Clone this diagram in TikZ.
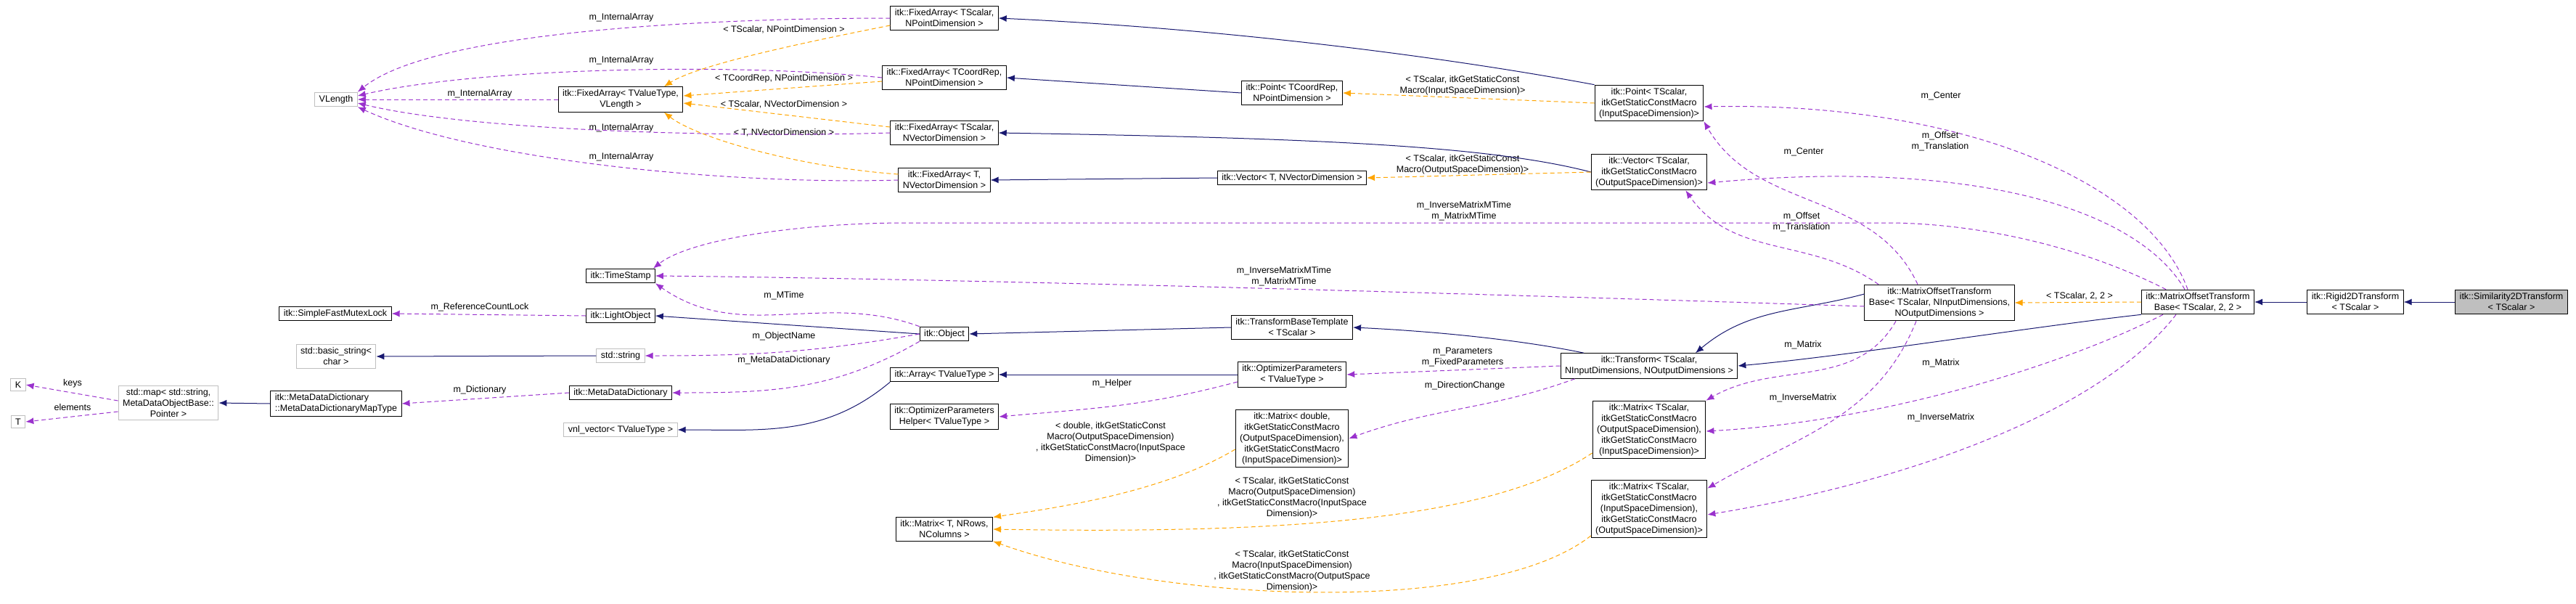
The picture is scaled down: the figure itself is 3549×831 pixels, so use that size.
\documentclass[tikz,border=0pt]{standalone}
\usepackage{fontspec}
\setmainfont{Liberation Sans}
\usetikzlibrary{positioning,calc,arrows.meta}
\definecolor{inhblue}{HTML}{191970}
\definecolor{usepurple}{HTML}{9A32CD}
\definecolor{tmplorange}{HTML}{FFA500}
\tikzset{
  cls/.style={draw=black,line width=1pt,fill=white,align=center,inner xsep=6pt,inner ysep=4pt,font=\fontsize{12.5}{15}\selectfont},
  ucls/.style={cls,draw=black!25},
  lbl/.style={align=center,inner sep=0pt,font=\fontsize{12.5}{15}\selectfont},
  inh/.style={draw=inhblue,line width=1pt,-{Latex[length=11pt,width=9pt]}},
  use/.style={draw=usepurple,line width=1pt,dash pattern=on 6pt off 4pt,-{Latex[length=11pt,width=9pt]}},
  tmpl/.style={draw=tmplorange,line width=1pt,dash pattern=on 6pt off 4pt,-{Latex[length=11pt,width=9pt]}},
}
\begin{document}
\begin{tikzpicture}[x=1pt,y=-1pt]
\useasboundingbox (0,0) rectangle (3549,831);
% classes, left to right
\node[ucls](K) at (25,530){K};
\node[ucls](T) at (25,581){T};
\node[ucls](StdMap) at (232,555){std::map< std::string,\\MetaDataObjectBase::\\Pointer >};
\node[ucls](VLength) at (463,137){VLength};
\node[cls](Mutex) at (462,432){itk::SimpleFastMutexLock};
\node[ucls](BasicString) at (463,491){std::basic\_string<\\char >};
\node[cls,align=left](MapType) at (463,556){itk::MetaDataDictionary\\::MetaDataDictionaryMapType};
\node[cls](FAvl) at (855,137){itk::FixedArray< TValueType,\\VLength >};
\node[cls](TimeStamp) at (855,380){itk::TimeStamp};
\node[cls](LightObject) at (855,435){itk::LightObject};
\node[ucls](StdString) at (855,490){std::string};
\node[cls](MetaDict) at (855,541){itk::MetaDataDictionary};
\node[ucls](VnlVector) at (855,592){vnl\_vector< TValueType >};
\node[cls](FApt) at (1301,25){itk::FixedArray< TScalar,\\NPointDimension >};
\node[cls](FAcr) at (1301,107){itk::FixedArray< TCoordRep,\\NPointDimension >};
\node[cls](FAsv) at (1301,183){itk::FixedArray< TScalar,\\NVectorDimension >};
\node[cls](FAtv) at (1301,248){itk::FixedArray< T,\\NVectorDimension >};
\node[cls](Object) at (1301,460){itk::Object};
\node[cls](Array) at (1301,516){itk::Array< TValueType >};
\node[cls](OptHelper) at (1301,574){itk::OptimizerParameters\\Helper< TValueType >};
\node[cls](MatrixT) at (1301,729){itk::Matrix< T, NRows,\\NColumns >};
\node[cls](PointCR) at (1780,128){itk::Point< TCoordRep,\\NPointDimension >};
\node[cls](VectorT) at (1780,245){itk::Vector< T, NVectorDimension >};
\node[cls](TBT) at (1780,451){itk::TransformBaseTemplate\\< TScalar >};
\node[cls](OptParams) at (1780,516){itk::OptimizerParameters\\< TValueType >};
\node[cls](MatrixD) at (1780,604){itk::Matrix< double,\\itkGetStaticConstMacro\\(OutputSpaceDimension),\\itkGetStaticConstMacro\\(InputSpaceDimension)>};
\node[cls](PointS) at (2272,142){itk::Point< TScalar,\\itkGetStaticConstMacro\\(InputSpaceDimension)>};
\node[cls](VectorS) at (2272,237){itk::Vector< TScalar,\\itkGetStaticConstMacro\\(OutputSpaceDimension)>};
\node[cls](Transform) at (2272,504){itk::Transform< TScalar,\\NInputDimensions, NOutputDimensions >};
\node[cls](MatrixOI) at (2272,592){itk::Matrix< TScalar,\\itkGetStaticConstMacro\\(OutputSpaceDimension),\\itkGetStaticConstMacro\\(InputSpaceDimension)>};
\node[cls](MatrixIO) at (2272,701){itk::Matrix< TScalar,\\itkGetStaticConstMacro\\(InputSpaceDimension),\\itkGetStaticConstMacro\\(OutputSpaceDimension)>};
\node[cls](MOTBN) at (2672,417){itk::MatrixOffsetTransform\\Base< TScalar, NInputDimensions,\\NOutputDimensions >};
\node[cls](MOTB2) at (3028,416){itk::MatrixOffsetTransform\\Base< TScalar, 2, 2 >};
\node[cls](Rigid) at (3245,416){itk::Rigid2DTransform\\< TScalar >};
\node[cls,fill=black!25](Sim) at (3460,416){itk::Similarity2DTransform\\< TScalar >};

% edge labels
\node[lbl](lKeys) at (100,528){keys};
\node[lbl](lElems) at (100,561){elements};
\node[lbl](lIA1) at (856,24){m\_InternalArray};
\node[lbl](lIA2) at (856,83){m\_InternalArray};
\node[lbl](lIA3) at (661,129){m\_InternalArray};
\node[lbl](lIA4) at (856,176){m\_InternalArray};
\node[lbl](lIA5) at (856,216){m\_InternalArray};
\node[lbl](lFApt) at (1080,41){< TScalar, NPointDimension >};
\node[lbl](lFAcr) at (1080,108){< TCoordRep, NPointDimension >};
\node[lbl](lFAsv) at (1080,144){< TScalar, NVectorDimension >};
\node[lbl](lFAtv) at (1080,183){< T, NVectorDimension >};
\node[lbl](lLock) at (661,423){m\_ReferenceCountLock};
\node[lbl](lDict) at (661,537){m\_Dictionary};
\node[lbl](lMTime) at (1080,407){m\_MTime};
\node[lbl](lName) at (1080,463){m\_ObjectName};
\node[lbl](lMDD) at (1080,496){m\_MetaDataDictionary};
\node[lbl](lHelper) at (1532,528){m\_Helper};
\node[lbl](lMatD) at (1530,610){< double, itkGetStaticConst\\Macro(OutputSpaceDimension)\\, itkGetStaticConstMacro(InputSpace\\Dimension)>};
\node[lbl](lMatOI) at (1780,686){< TScalar, itkGetStaticConst\\Macro(OutputSpaceDimension)\\, itkGetStaticConstMacro(InputSpace\\Dimension)>};
\node[lbl](lMatIO) at (1780,787){< TScalar, itkGetStaticConst\\Macro(InputSpaceDimension)\\, itkGetStaticConstMacro(OutputSpace\\Dimension)>};
\node[lbl](lPointS) at (2015,118){< TScalar, itkGetStaticConst\\Macro(InputSpaceDimension)>};
\node[lbl](lVectorS) at (2015,227){< TScalar, itkGetStaticConst\\Macro(OutputSpaceDimension)>};
\node[lbl](lMTimeN) at (1769,381){m\_InverseMatrixMTime\\m\_MatrixMTime};
\node[lbl](lMTime2) at (2017,291){m\_InverseMatrixMTime\\m\_MatrixMTime};
\node[lbl](lParams) at (2015,492){m\_Parameters\\m\_FixedParameters};
\node[lbl](lDir) at (2018,531){m\_DirectionChange};
\node[lbl](lCenterN) at (2485,209){m\_Center};
\node[lbl](lOffsetN) at (2482,306){m\_Offset\\m\_Translation};
\node[lbl](lMatrixN) at (2484,475){m\_Matrix};
\node[lbl](lInvN) at (2484,548){m\_InverseMatrix};
\node[lbl](lTmpl22) at (2865,408){< TScalar, 2, 2 >};
\node[lbl](lCenter2) at (2674,132){m\_Center};
\node[lbl](lOffset2) at (2673,195){m\_Offset\\m\_Translation};
\node[lbl](lMatrix2) at (2674,500){m\_Matrix};
\node[lbl](lInv2) at (2674,575){m\_InverseMatrix};

% fixed arrays and their storage
\draw[use] (FApt.west) .. controls (1000,25) and (600,40) .. (VLength.north east);
\draw[use] (FAcr.west) .. controls (1000,85) and (650,95) .. ([yshift=5pt]VLength.east);
\draw[use] (FAvl.west) -- (VLength.east);
\draw[use] (FAsv.west) .. controls (1000,190) and (650,180) .. ([yshift=-5pt]VLength.east);
\draw[use] (FAtv.west) .. controls (1000,255) and (650,220) .. (VLength.south east);
\draw[tmpl] ([yshift=-10pt]FApt.west) .. controls (1100,60) and (960,90) .. ([xshift=60pt]FAvl.north);
\draw[tmpl] ([yshift=-5pt]FAcr.west) -- ([yshift=5pt]FAvl.east);
\draw[tmpl] ([yshift=8pt]FAsv.west) -- ([yshift=-5pt]FAvl.east);
\draw[tmpl] ([yshift=8pt]FAtv.west) .. controls (1100,230) and (960,190) .. ([xshift=60pt]FAvl.south);
\draw[inh] (PointS.north west) .. controls (2000,80) and (1700,40) .. (FApt.east);
\draw[inh] (PointCR.west) -- (FAcr.east);
\draw[inh] (VectorS.west) .. controls (2050,200) and (1800,190) .. (FAsv.east);
\draw[inh] (VectorT.west) -- (FAtv.east);
\draw[tmpl] (PointS.west) -- (PointCR.east);
\draw[tmpl] (VectorS.west) -- (VectorT.east);

% object hierarchy
\draw[inh] (Object.west) -- (LightObject.east);
\draw[use] (Object.north west) to[out=160,in=-35] (TimeStamp.south east);
\draw[use] (Object.west) to[out=190,in=0] (StdString.east);
\draw[use] (Object.south west) to[out=210,in=0] (MetaDict.east);
\draw[use] (LightObject.west) -- (Mutex.east);
\draw[inh] (StdString.west) -- (BasicString.east);
\draw[use] (MetaDict.west) -- (MapType.east);
\draw[inh] (MapType.west) -- (StdMap.east);
\draw[use] ([yshift=3pt]StdMap.west) -- (K.east);
\draw[use] ([yshift=-12pt]StdMap.west) -- (T.east);
\draw[inh] (TBT.west) -- (Object.east);
\draw[inh] (OptParams.west) -- (Array.east);
\draw[use] ([yshift=-10pt]OptParams.west) to[out=195,in=5] (OptHelper.east);
\draw[inh] (Array.south west) to[out=220,in=0] (VnlVector.east);

% transforms
\draw[inh] ([xshift=-90pt]Transform.north) .. controls (2080,465) and (1950,455) .. (TBT.east);
\draw[use] (Transform.west) -- (OptParams.east);
\draw[use] ([xshift=20pt]Transform.south west) to[out=200,in=20] (MatrixD.east);
\draw[tmpl] ([yshift=-15pt]MatrixD.west) .. controls (1600,680) and (1450,700) .. (MatrixT.north east);
\draw[tmpl] ([yshift=-32pt]MatrixOI.west) .. controls (2050,720) and (1750,735) .. (MatrixT.east);
\draw[tmpl] ([yshift=-37pt]MatrixIO.west) .. controls (2050,850) and (1600,830) .. (MatrixT.south east);
\draw[inh] ([yshift=12pt]MOTBN.west) to[out=195,in=40] ([xshift=64pt]Transform.north);
\draw[use] ([xshift=-30pt]MOTBN.north) to[out=115,in=-60] (PointS.south east);
\draw[use] ([xshift=-84pt]MOTBN.north) to[out=145,in=-55] ([xshift=-30pt]VectorS.south east);
\draw[use] ([yshift=-5pt]MOTBN.west) .. controls (2200,410) and (1400,385) .. (TimeStamp.east);
\draw[use] ([xshift=-60pt]MOTBN.south) to[out=-120,in=30] (MatrixOI.north east);
\draw[use] ([xshift=-32pt]MOTBN.south) to[out=-112,in=30] ([yshift=-12pt]MatrixIO.north east);
\draw[tmpl] (MOTB2.west) -- (MOTBN.east);
\draw[inh] (MOTB2.south west) .. controls (2800,450) and (2550,490) .. (Transform.east);
\draw[use] ([xshift=-14pt]MOTB2.north) .. controls (2960,250) and (2700,140) .. ([yshift=-5pt]PointS.east);
\draw[use] ([xshift=-18pt]MOTB2.north) .. controls (2940,280) and (2700,220) .. ([yshift=-15pt]VectorS.east);
\draw[use] ([xshift=-44pt]MOTB2.north) .. controls (2850,330) and (2700,307) .. (2600,307) -- (1250,307) .. controls (1100,307) and (950,330) .. ([xshift=-3pt]TimeStamp.north east);
\draw[use] ([xshift=-48pt]MOTB2.south) .. controls (2850,500) and (2600,580) .. ([yshift=-2pt]MatrixOI.east);
\draw[use] ([xshift=-30pt]MOTB2.south) .. controls (2900,560) and (2650,660) .. ([yshift=-8pt]MatrixIO.east);
\draw[inh] (Rigid.west) -- (MOTB2.east);
\draw[inh] (Sim.west) -- (Rigid.east);
\end{tikzpicture}
\end{document}
